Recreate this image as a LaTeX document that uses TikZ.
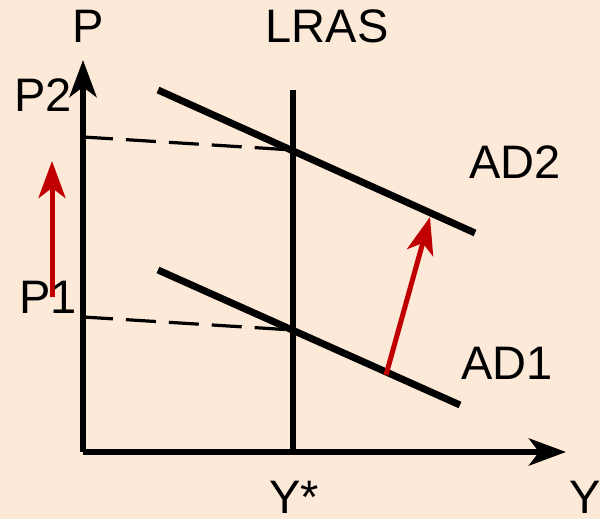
\documentclass[tikz,border=0pt]{standalone}
\usepackage{fontspec}
\setmainfont{Liberation Sans}
\usetikzlibrary{arrows.meta}
\definecolor{bg}{RGB}{252,233,216}
\definecolor{arrred}{RGB}{192,0,0}
\begin{document}
\begin{tikzpicture}[x=1pt,y=-1pt,
  lbl/.style={font=\fontsize{47}{50}\selectfont, inner sep=0pt},
  axisline/.style={line width=6pt, -{Stealth[length=37pt,width=27pt,inset=10pt]}},
  curveline/.style={line width=7pt},
  guideline/.style={line width=3.2pt, dash pattern=on 30pt off 13pt},
  shiftarrow/.style={arrred, line width=5pt, -{Stealth[length=37pt,width=27pt,inset=10pt]}}]
\fill[bg] (0,0) rectangle (600,519);
\useasboundingbox (0,0) rectangle (600,519);
% axes
\coordinate (O) at (83,452);
\coordinate (Ptop) at (83,60);
\coordinate (Yend) at (566,452);
\draw[axisline] (O) -- (Ptop);
\draw[axisline] (O) -- (Yend);
% LRAS
\coordinate (Lb) at (293,452);
\coordinate (Lt) at (293,90);
\draw[line width=6pt] (Lb) -- (Lt);
% AD curves
\coordinate (A2s) at (158,90);
\coordinate (A2e) at (475,233);
\coordinate (A1s) at (158,270);
\coordinate (A1e) at (460,405);
\draw[curveline] (A2s) -- (A2e);
\draw[curveline] (A1s) -- (A1e);
% guides
\coordinate (P2a) at (83,137);
\coordinate (E2) at (293,150);
\coordinate (P1a) at (83,317);
\coordinate (E1) at (293,330);
\draw[guideline] (P2a) -- (E2);
\draw[guideline] (P1a) -- (E1);
% shift arrows
\coordinate (R1s) at (52,297);
\coordinate (R1e) at (52,161);
\draw[shiftarrow] (R1s) -- (R1e);
\coordinate (R2s) at (386,375);
\coordinate (R2e) at (430,217);
\draw[shiftarrow] (R2s) -- (R2e);
% labels
\node[lbl, anchor=base] (lP) at (88,43) {P};
\node[lbl, anchor=base west] (lP2) at (14,111) {P2};
\node[lbl, anchor=base west] (lP1) at (19,313) {P1};
\node[lbl, anchor=base] (lL) at (327,43) {LRAS};
\node[lbl, anchor=base west] (lA2) at (469,178) {AD2};
\node[lbl, anchor=base west] (lA1) at (461,379) {AD1};
\node[lbl, anchor=base] (lYs) at (294,513) {Y*};
\node[lbl, anchor=base west] (lY) at (569,513) {Y};
\end{tikzpicture}
\end{document}
